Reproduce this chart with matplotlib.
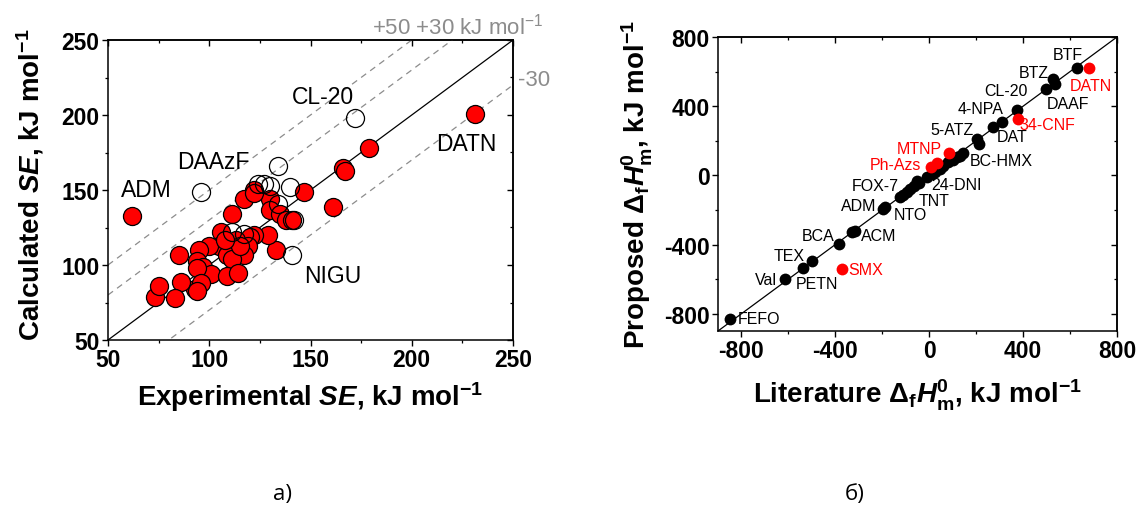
import matplotlib
matplotlib.use("Agg")
import matplotlib.pyplot as plt
import numpy as np
from matplotlib.ticker import MultipleLocator

plt.rcParams['font.family'] = ['Liberation Sans', 'DejaVu Sans']
plt.rcParams['axes.unicode_minus'] = False
plt.rcParams['mathtext.fontset'] = 'custom'
plt.rcParams['mathtext.rm'] = 'Liberation Sans'
plt.rcParams['mathtext.it'] = 'Liberation Sans:italic'
plt.rcParams['mathtext.bf'] = 'Liberation Sans:bold'
try:
    plt.rcParams['mathtext.bfit'] = 'Liberation Sans:italic:bold'
except KeyError:
    pass

# ---------------- Panel a) data ----------------
se_exp_red = [62, 231, 179, 166, 167, 161, 147, 133, 130, 130, 135, 138, 141, 129, 122, 120,
              119, 117, 122, 117, 111, 106, 105, 100, 95, 109, 94, 97, 101, 111, 109, 114,
              94, 93, 96, 86, 85, 73, 75, 83, 94, 113, 115, 108, 122]
se_calc_red = [133, 201, 178, 165, 163, 139, 149, 110, 144, 137, 134, 130, 130, 120, 120, 119,
               113, 107, 150, 144, 134, 122, 113, 113, 110, 107, 103, 99, 94, 104, 93, 95,
               98, 84, 88, 89, 107, 79, 86, 78, 83, 117, 113, 117, 148]
se_exp_open = [96, 172, 134, 141, 124, 130, 140, 134, 142, 111, 117, 127]
se_calc_open = [149, 198, 166, 107, 154, 153, 152, 141, 130, 122, 121, 154]
labels_a = ['ADM', 'DAAzF', 'CL-20', 'DATN', 'NIGU']
labels_a_x = [69, 102, 156, 227, 161]
labels_a_y = [150, 169, 212, 181, 93]
offsets_a = [50, 30, -30]

# ---------------- Panel b) data ----------------
lit_black = [-849, -615, -539, -501, -383, -330, -316, -196, -190, -125, -110, -95, -80, -65,
             -53, -45, -11, 10, 25, 46, 60, 81, 100, 117, 130, 145, 205, 210, 270, 309,
             375, 497, 529, 536, 628]
prop_black = [-833, -602, -536, -496, -396, -325, -319, -194, -185, -127, -112, -97, -80, -60,
              -31, -45, -11, 5, 20, 37, 55, 75, 90, 104, 110, 129, 210, 180, 277, 310,
              379, 498, 556, 527, 623]
lit_red = [6, 34, 83, 380, 682, -372]
prop_red = [46, 69, 129, 325, 618, -541]
labels_b = ['BTF', 'BTZ', 'DATN', 'CL-20', 'DAAF', '4-NPA', '34-CNF', '5-ATZ', 'DAT',
            'MTNP', 'BC-HMX', 'Ph-Azs', 'FOX-7', '24-DNI', 'TNT', 'ADM', 'NTO', 'BCA',
            'ACM', 'TEX', 'SMX', 'Val', 'PETN', 'FEFO']
labels_b_x = [592, 445, 689, 328, 592, 220, 502, 96, 352, -43, 305, -144, -229, 116, 19,
              -302, -79, -472, -214, -598, -271, -694, -477, -725]
labels_b_y = [700, 595, 522, 489, 418, 388, 292, 263, 224, 157, 86, 61, -58, -52, -144,
              -173, -224, -345, -345, -466, -547, -600, -623, -829]
labels_b_red = ['DATN', '34-CNF', 'MTNP', 'Ph-Azs', 'SMX']

W, H = 1141, 510
fig = plt.figure(figsize=(W / 100, H / 100), dpi=100)

def ax_rect(x0, y0, x1, y1):
    return [x0 / W, 1 - y1 / H, (x1 - x0) / W, (y1 - y0) / H]

ax1 = fig.add_axes(ax_rect(108, 41, 513, 341))
ax2 = fig.add_axes(ax_rect(718, 38, 1117, 332))

def style_axes(ax, lo, hi, major, minor):
    ax.set_xlim(lo, hi)
    ax.set_ylim(lo, hi)
    ax.xaxis.set_major_locator(MultipleLocator(major))
    ax.yaxis.set_major_locator(MultipleLocator(major))
    ax.xaxis.set_minor_locator(MultipleLocator(minor))
    ax.yaxis.set_minor_locator(MultipleLocator(minor))
    for sp in ax.spines.values():
        sp.set_linewidth(1.1)
    ax.tick_params(which='major', direction='out', length=4, width=1.0, pad=2)
    ax.tick_params(which='minor', direction='out', length=2.5, width=0.9)
    for lab in ax.get_xticklabels() + ax.get_yticklabels():
        lab.set_fontsize(16.5)
        lab.set_fontweight('bold')
    sx = ax.secondary_xaxis('top')
    sx.xaxis.set_major_locator(MultipleLocator(major))
    sx.xaxis.set_minor_locator(MultipleLocator(minor))
    sx.tick_params(which='major', direction='in', length=4, width=1.0, labeltop=False)
    sx.tick_params(which='minor', direction='in', length=2.5, width=0.9)
    sx.spines['top'].set_linewidth(1.1)
    sy = ax.secondary_yaxis('right')
    sy.yaxis.set_major_locator(MultipleLocator(major))
    sy.yaxis.set_minor_locator(MultipleLocator(minor))
    sy.tick_params(which='major', direction='in', length=4, width=1.0, labelright=False)
    sy.tick_params(which='minor', direction='in', length=2.5, width=0.9)
    sy.spines['right'].set_linewidth(1.1)

# ---- Panel a ----
style_axes(ax1, 50, 250, 50, 25)
xx = np.array([50, 250])
ax1.plot(xx, xx, color='black', lw=0.9, zorder=1)
for off in offsets_a:
    ax1.plot(xx, xx + off, color='#8c8c8c', lw=0.9, ls=(0, (5, 4)), zorder=1)
ax1.plot(se_exp_red, se_calc_red, 'o', ms=13, mfc='#ff0000', mec='black', mew=0.9,
         ls='none', zorder=3, clip_on=False)
ax1.plot(se_exp_open, se_calc_open, 'o', ms=13, mfc='none', mec='black', mew=0.9,
         ls='none', zorder=4)
for t, x, y in zip(labels_a, labels_a_x, labels_a_y):
    ax1.text(x, y, t, fontsize=16.5, ha='center', va='center', zorder=5)
ax1.text(0.864, 1.047, r'+50 +30 kJ mol$^{\mathrm{-1}}$', transform=ax1.transAxes,
         fontsize=16, color='#8c8c8c', ha='center', va='center', clip_on=False)
ax1.text(1.012, 0.867, '-30', transform=ax1.transAxes,
         fontsize=16, color='#8c8c8c', ha='left', va='center', clip_on=False)
ax1.set_xlabel(r'Experimental $\mathbfit{SE}$, kJ mol$^{\mathbf{-1}}$', fontsize=20,
               fontweight='bold')
ax1.set_ylabel(r'Calculated $\mathbfit{SE}$, kJ mol$^{\mathbf{-1}}$', fontsize=20,
               fontweight='bold')
ax1.xaxis.set_label_coords(0.50, -0.13)
ax1.yaxis.set_label_coords(-0.152, 0.52)

# ---- Panel b ----
style_axes(ax2, -900, 800, 400, 200)
xx2 = np.array([-900, 800])
ax2.plot(xx2, xx2, color='black', lw=0.9, zorder=1)
ax2.plot(lit_black, prop_black, 'o', ms=8.5, mfc='black', mec='black', mew=0,
         ls='none', zorder=3)
ax2.plot(lit_red, prop_red, 'o', ms=8.5, mfc='#ff0000', mec='#ff0000', mew=0,
         ls='none', zorder=4)
for t, x, y in zip(labels_b, labels_b_x, labels_b_y):
    col = '#ff0000' if t in labels_b_red else 'black'
    ax2.text(x, y, t, fontsize=11.5, ha='center', va='center', color=col, zorder=5)
ax2.set_xlabel(r'Literature $\mathbf{\Delta}_{\mathbf{f}}\mathbfit{H}_{\mathbf{m}}^{\mathbf{0}}$, kJ mol$^{\mathbf{-1}}$',
               fontsize=20, fontweight='bold')
ax2.set_ylabel(r'Proposed $\mathbf{\Delta}_{\mathbf{f}}\mathbfit{H}_{\mathbf{m}}^{\mathbf{0}}$, kJ mol$^{\mathbf{-1}}$',
               fontsize=20, fontweight='bold')
ax2.xaxis.set_label_coords(0.50, -0.155)
ax2.yaxis.set_label_coords(-0.158, 0.50)

fig.text(283 / W, 1 - 495 / H, 'a)', fontsize=16, ha='center', va='center',
         family=['Open Sans', 'DejaVu Sans'])
fig.text(855 / W, 1 - 495 / H, 'б)', fontsize=16, ha='center', va='center',
         family=['Open Sans', 'DejaVu Sans'])

fig.savefig('out.png', dpi=100)
